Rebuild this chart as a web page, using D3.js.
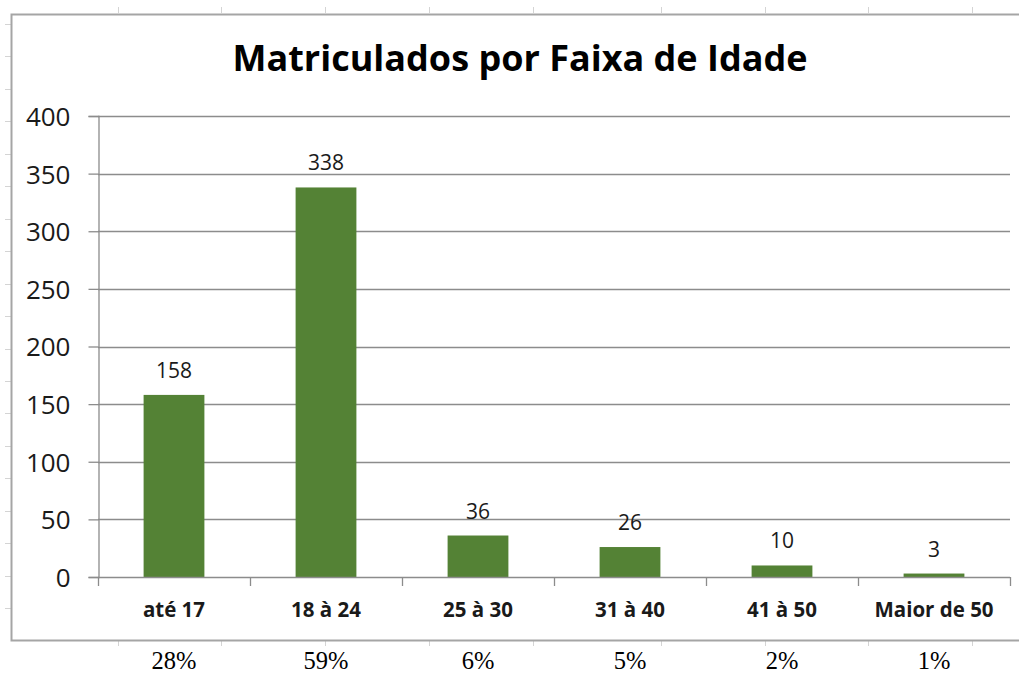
<!DOCTYPE html>
<html>
<head>
<meta charset="utf-8">
<script src="https://cdn.jsdelivr.net/npm/d3@7"></script>
<style>
  html, body { margin: 0; padding: 0; background: #fff; }
  svg { display: block; }
</style>
</head>
<body>
<div id="chart"></div>
<script>
const categories = ["até 17", "18 à 24", "25 à 30", "31 à 40", "41 à 50", "Maior de 50"]
const values = [158, 338, 36, 26, 10, 3]
const percents = ["28%", "59%", "6%", "5%", "2%", "1%"]
const yTicks = [0, 50, 100, 150, 200, 250, 300, 350, 400]

const width = 1019
const height = 673

const svg = d3.select("#chart")
  .append("svg")
  .attr("width", width)
  .attr("height", height)

// spreadsheet column / row marks around the chart
const colEdges = [118, 221, 325, 429, 533, 661, 765, 868, 972]
const rowEdges = d3.range(19).map((i) => 24 + i * 32.45)
const sheet = svg.append("g").attr("stroke", "#d4d4d4").attr("stroke-width", 1)
sheet.selectAll("line.top").data(colEdges).enter().append("line")
  .attr("x1", (d) => d + 0.5).attr("x2", (d) => d + 0.5)
  .attr("y1", 7).attr("y2", 13)
sheet.selectAll("line.bot").data(colEdges).enter().append("line")
  .attr("x1", (d) => d + 0.5).attr("x2", (d) => d + 0.5)
  .attr("y1", 641).attr("y2", 646)
sheet.selectAll("line.left").data(rowEdges).enter().append("line")
  .attr("x1", 5).attr("x2", 11)
  .attr("y1", (d) => Math.round(d) + 0.5).attr("y2", (d) => Math.round(d) + 0.5)

// chart frame
svg.append("path")
  .attr("d", "M1025,14.5 H11.5 V640.5 H1025")
  .attr("fill", "none")
  .attr("stroke", "#a5a5a5")
  .attr("stroke-width", 2)

const margin = { left: 98, right: 1010, top: 116, bottom: 577 }

const x = d3.scaleBand()
  .domain(categories)
  .range([margin.left, margin.right])
  .paddingInner(0.6)
  .paddingOuter(0.3)

const xb = d3.scaleBand()
  .domain(categories)
  .range([margin.left, margin.right])

const y = d3.scaleLinear()
  .domain([0, 400])
  .range([margin.bottom, margin.top])

// gridlines
svg.append("g")
  .selectAll("line")
  .data(yTicks.filter((d) => d > 0))
  .enter()
  .append("line")
  .attr("x1", margin.left)
  .attr("x2", margin.right)
  .attr("y1", (d) => Math.round(y(d)) + 0.5)
  .attr("y2", (d) => Math.round(y(d)) + 0.5)
  .attr("stroke", "#8c8c8c")
  .attr("stroke-width", 1.3)

// y axis
const yAxis = svg.append("g")
  .attr("transform", `translate(${margin.left + 0.5},0)`)
  .call(d3.axisLeft(y).tickValues(yTicks).tickSize(10).tickPadding(18))
yAxis.select(".domain").attr("stroke", "#8c8c8c").attr("stroke-width", 1.3)
yAxis.selectAll(".tick line").attr("stroke", "#8c8c8c").attr("stroke-width", 1.3)
yAxis.selectAll(".tick text")
  .attr("font-family", "'Open Sans', sans-serif")
  .attr("font-size", "26px")
  .attr("fill", "#1a1a1a")
  .attr("dy", "0.36em")

// bars
svg.append("g")
  .selectAll("rect")
  .data(values)
  .enter()
  .append("rect")
  .attr("x", (d, i) => x(categories[i]))
  .attr("width", x.bandwidth())
  .attr("y", (d) => y(d))
  .attr("height", (d) => y(0) - y(d))
  .attr("fill", "#548235")

// x axis
svg.append("line")
  .attr("x1", margin.left)
  .attr("x2", margin.right)
  .attr("y1", margin.bottom + 0.5)
  .attr("y2", margin.bottom + 0.5)
  .attr("stroke", "#8c8c8c")
  .attr("stroke-width", 1.3)
svg.append("g")
  .selectAll("line")
  .data(categories.map((c) => xb(c)).concat([margin.right]))
  .enter()
  .append("line")
  .attr("x1", (d) => Math.round(d) + 0.5)
  .attr("x2", (d) => Math.round(d) + 0.5)
  .attr("y1", margin.bottom)
  .attr("y2", margin.bottom + 9)
  .attr("stroke", "#8c8c8c")
  .attr("stroke-width", 1.3)

svg.append("g")
  .selectAll("text")
  .data(categories)
  .enter()
  .append("text")
  .attr("x", (d) => xb(d) + xb.bandwidth() / 2)
  .attr("y", 617)
  .attr("text-anchor", "middle")
  .attr("font-family", "'Open Sans', sans-serif")
  .attr("font-weight", "bold")
  .attr("font-size", "20.5px")
  .attr("fill", "#1a1a1a")
  .text((d) => d)

// value labels
svg.append("g")
  .selectAll("text")
  .data(values)
  .enter()
  .append("text")
  .attr("x", (d, i) => xb(categories[i]) + xb.bandwidth() / 2)
  .attr("y", (d) => y(d) - 17)
  .attr("text-anchor", "middle")
  .attr("font-family", "'Open Sans', sans-serif")
  .attr("font-size", "21px")
  .attr("fill", "#1a1a1a")
  .text((d) => d)

// title
svg.append("text")
  .attr("x", 520)
  .attr("y", 71)
  .attr("text-anchor", "middle")
  .attr("font-family", "'Open Sans', sans-serif")
  .attr("font-weight", "bold")
  .attr("font-size", "36px")
  .attr("fill", "#000")
  .text("Matriculados por Faixa de Idade")

// percentages in the sheet cells below
svg.append("g")
  .selectAll("text")
  .data(percents)
  .enter()
  .append("text")
  .attr("x", (d, i) => xb(categories[i]) + xb.bandwidth() / 2)
  .attr("y", 669)
  .attr("text-anchor", "middle")
  .attr("font-family", "'Liberation Serif', 'Times New Roman', serif")
  .attr("font-size", "24.5px")
  .attr("fill", "#000")
  .text((d) => d)
</script>
</body>
</html>
